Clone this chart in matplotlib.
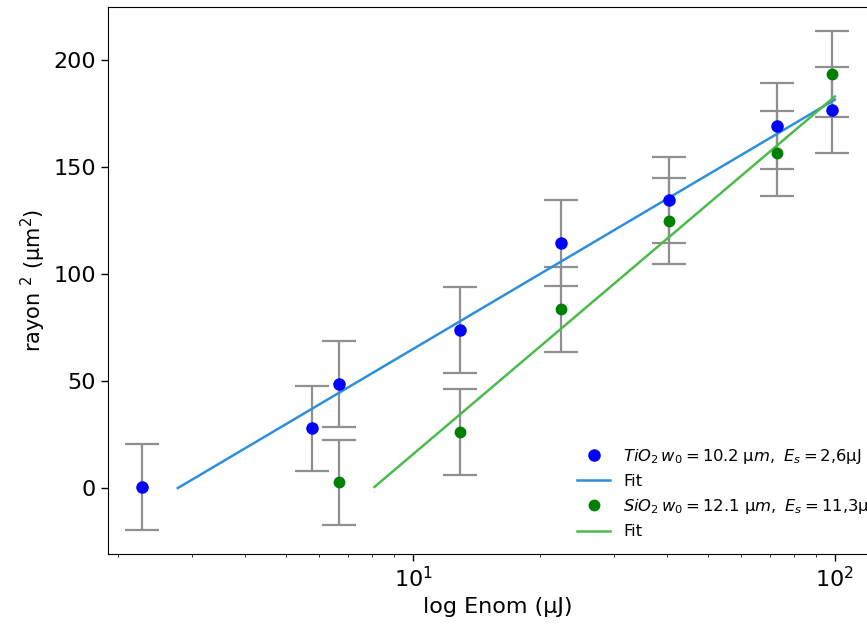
import numpy as np
import matplotlib.pyplot as plt
from matplotlib.font_manager import FontProperties

# Energie nominale (uJ) et rayon^2 (um^2)
E_TiO2 = [2.28, 5.75, 6.68, 12.9, 22.4, 40.4, 73.0, 98.7]
r2_TiO2 = [0.6, 27.9, 48.6, 73.8, 114.6, 134.6, 169.2, 176.6]
E_SiO2 = [6.68, 12.9, 22.4, 40.4, 73.0, 98.7]
r2_SiO2 = [2.7, 26.3, 83.5, 124.9, 156.4, 193.5]
erro = 20

# droites de fit (extremites)
fit_TiO2_E = [2.77, 100]
fit_TiO2_r2 = [0, 181.5]
fit_SiO2_E = [8.1, 100]
fit_SiO2_r2 = [0.5, 183]

label_TiO2 = r'$TiO_2\,w_0=10.2\ \mathrm{\mu}m,\ E_s=2{,}6\mathrm{\mu J}$'
label_SiO2 = r'$SiO_2\,w_0=12.1\ \mathrm{\mu}m,\ E_s=11{,}3\mathrm{\mu J}$'

fig = plt.figure(figsize=(8.67, 6.28), dpi=100)
ax = fig.add_axes([108/867, 1-554/628, (888-108)/867, (554-7)/628])

ax.errorbar(E_TiO2, r2_TiO2, yerr=erro, fmt='none', ecolor='#8f8f8f', elinewidth=1.6, capsize=12, capthick=1.6)
ax.errorbar(E_SiO2, r2_SiO2, yerr=erro, fmt='none', ecolor='#8f8f8f', elinewidth=1.6, capsize=12, capthick=1.6)

ax.plot(E_TiO2, r2_TiO2, 'o', c='blue', ms=8, zorder=4, label=label_TiO2)
ax.plot(fit_TiO2_E, fit_TiO2_r2, c='#2f8fd8', lw=1.8, label='Fit')
ax.plot(E_SiO2, r2_SiO2, 'o', c='green', ms=7.5, zorder=4, label=label_SiO2)
ax.plot(fit_SiO2_E, fit_SiO2_r2, c='#4cbb4c', lw=1.8, label='Fit')

ax.set_xscale('log')
ax.set_xlim(10**0.277, 10**2.126)
ax.set_ylim(-30.8, 224.8)
ax.set_xticks([10, 100])
ax.tick_params(labelsize=16, width=1, length=5)
ax.set_xlabel('log Enom (µJ)', fontsize=16)
ax.set_ylabel('rayon $^2$ (µm$^2$)', fontsize=15)
ax.legend(loc='lower right', frameon=False, prop=FontProperties(size=11.8, math_fontfamily='dejavusans'))

fig.savefig('out.png', dpi=100)
